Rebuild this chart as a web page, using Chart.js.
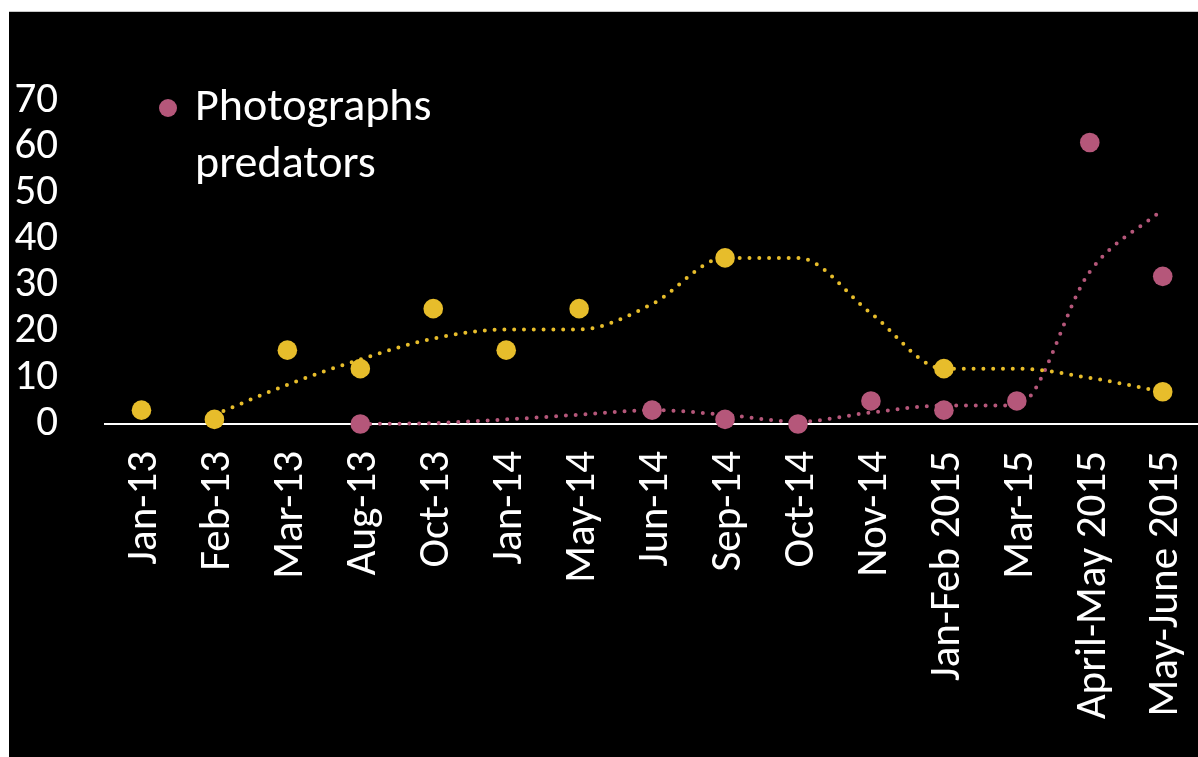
<!DOCTYPE html>
<html lang="en">

<head>
    <meta charset="UTF-8" />
    <title>Photographs predators</title>
    <script src="https://cdn.jsdelivr.net/npm/chart.js"></script>
    <style>
        html, body {
            margin: 0;
            padding: 0;
            background: #fff;
            overflow: hidden;
            width: 1198px;
            height: 757px;
        }

        .chart-box {
            position: absolute;
            left: 9px;
            top: 11px;
            width: 1200px;
            height: 746px;
            background: #000;
            border-top: 1px solid #c8c8c8;
            box-sizing: border-box;
        }

        .legend {
            position: absolute;
            left: 186px;
            top: 64px;
            color: #fff;
            font-family: Carlito, Calibri, Lato, sans-serif;
            font-size: 46px;
            line-height: 57px;
        }

        .legend .dot {
            position: absolute;
            left: -36px;
            top: 23px;
            width: 18px;
            height: 18px;
            border-radius: 50%;
            background: #b5577a;
        }
    </style>
</head>

<body>
    <div class="chart-box">
        <canvas id="chart1"></canvas>
        <div class="legend"><span class="dot"></span>Photographs<br>predators</div>
    </div>
<script>
    const categories = ['Jan-13', 'Feb-13', 'Mar-13', 'Aug-13', 'Oct-13', 'Jan-14', 'May-14', 'Jun-14',
        'Sep-14', 'Oct-14', 'Nov-14', 'Jan-Feb 2015', 'Mar-15', 'April-May 2015', 'May-June 2015'];
    // yellow series (no legend entry)
    const yellowValues = [3, 1, 16, 12, 25, 16, 25, null, 36, null, null, 12, null, null, 7];
    const yellowTrend = [null, 2, 8.5, 14, 18.5, 20.5, 20.5, 26, 36, 36, 24, 12, 12, 10, 7];
    // Photographs predators
    const pinkValues = [null, null, null, 0, null, null, null, 3, 1, 0, 5, 3, 5, 61, 32];
    const pinkTrend = [null, null, null, 0, 0.2, 1, 2, 3, 2, 0.5, 2.5, 4, 4, 33, 46.5];
    const yTicks = [0, 10, 20, 30, 40, 50, 60, 70];

    const yellow = '#e7bd2b';
    const pink = '#b5577a';
    const font = 'Carlito, Calibri, Lato, sans-serif';

    const ctx = document.getElementById('chart1').getContext('2d');
    new Chart(ctx, {
        type: 'line',
        data: {
            labels: categories,
            datasets: [{
                label: 'Series 1',
                data: yellowValues,
                showLine: false,
                pointRadius: 9.8,
                pointBackgroundColor: yellow,
                pointBorderWidth: 0,
                clip: false,
                order: 1
            }, {
                label: 'Photographs predators',
                data: pinkValues,
                showLine: false,
                pointRadius: 9.8,
                pointBackgroundColor: pink,
                pointBorderWidth: 0,
                clip: false,
                order: 2
            }, {
                label: 'trend 1',
                data: yellowTrend,
                borderColor: yellow,
                borderWidth: 4,
                borderDash: [0, 9.8],
                borderCapStyle: 'round',
                pointRadius: 0,
                cubicInterpolationMode: 'monotone',
                spanGaps: true,
                clip: false,
                order: 3
            }, {
                label: 'trend 2',
                data: pinkTrend,
                borderColor: pink,
                borderWidth: 4,
                borderDash: [0, 9.8],
                borderCapStyle: 'round',
                pointRadius: 0,
                cubicInterpolationMode: 'monotone',
                spanGaps: true,
                clip: false,
                order: 4
            }]
        },
        options: {
            responsive: true,
            maintainAspectRatio: false,
            animation: false,
            layout: {
                padding: { top: 89, right: 6, left: 0, bottom: 0 }
            },
            plugins: {
                legend: { display: false },
                tooltip: { enabled: false }
            },
            scales: {
                y: {
                    min: 0,
                    max: 70,
                    afterBuildTicks: s => { s.ticks = yTicks.map(v => ({ value: v })); },
                    afterFit: s => { s.width = 96; s.paddingTop = 0; s.paddingBottom = 0; },
                    grid: { display: false, drawTicks: false },
                    border: { display: false },
                    ticks: {
                        color: '#fff',
                        padding: 47,
                        autoSkip: false,
                        font: { family: font, size: 43 }
                    }
                },
                x: {
                    offset: true,
                    afterFit: s => { s.height = 333; s.paddingLeft = 0; s.paddingRight = 0; },
                    grid: { display: false, drawTicks: false, offset: true },
                    border: { display: true, color: '#fff', width: 2 },
                    ticks: {
                        color: '#fff',
                        padding: 27,
                        labelOffset: 4,
                        maxRotation: 90,
                        minRotation: 90,
                        autoSkip: false,
                        font: { family: font, size: 43 }
                    }
                }
            }
        }
    });
</script>
</body>

</html>
